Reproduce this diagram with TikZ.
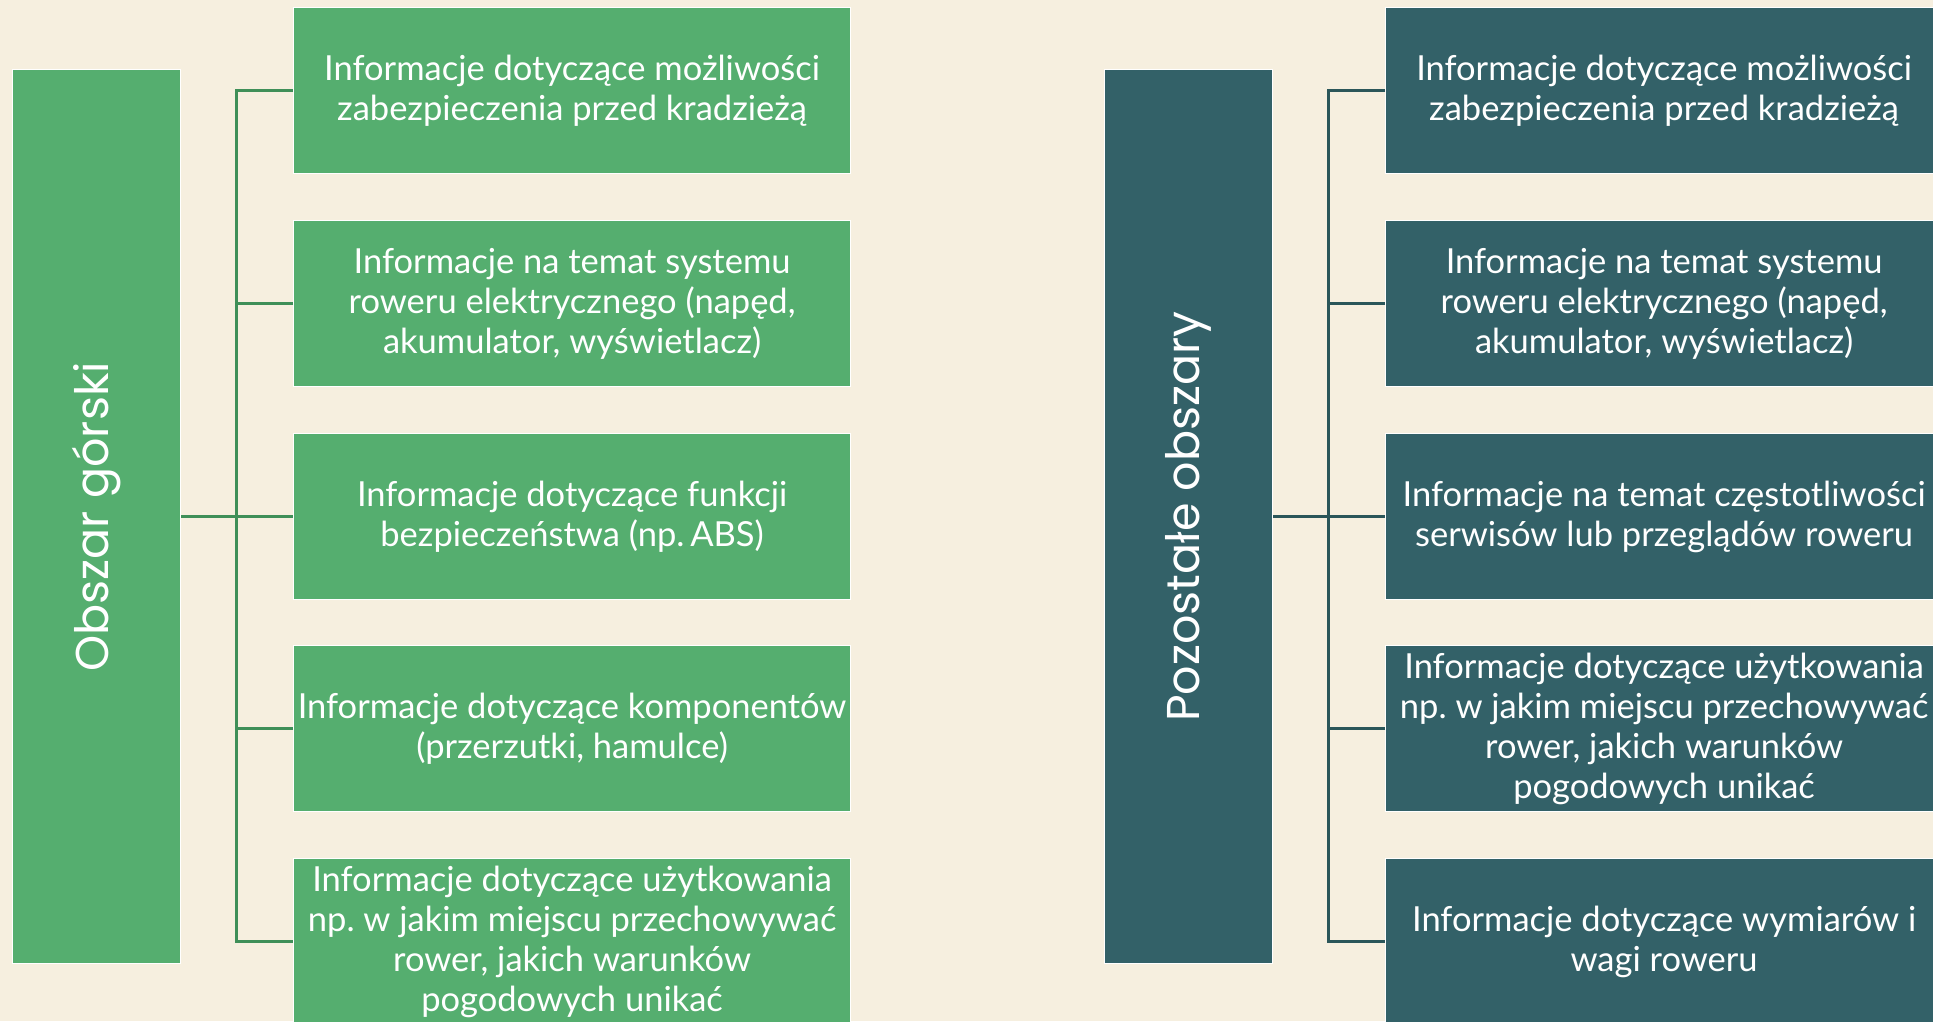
\documentclass[tikz,border=0pt]{standalone}
\usepackage{fontspec}
\setmainfont{Lato}
\newfontfamily\rootfont{Poppins}
\usepackage{graphicx}
\usetikzlibrary{calc}
\frenchspacing

\definecolor{paper}{HTML}{F6EFDF}
\definecolor{leafgreen}{HTML}{55AE6F}
\definecolor{wiregreen}{HTML}{3F8F58}
\definecolor{leafteal}{HTML}{336168}
\definecolor{wireteal}{HTML}{2B5659}

\newcommand{\pagew}{1933}
\newcommand{\pageh}{1021}
\newcommand{\rootw}{168pt}
\newcommand{\rooth}{894pt}
\newcommand{\leafw}{557pt}
\newcommand{\leafh}{166pt}
\newcommand{\sideshift}{1092pt}

\tikzset{
  rootbox/.style={rectangle, draw=white, line width=1.2pt,
    minimum width=\rootw, minimum height=\rooth, inner sep=0pt,
    anchor=north west, text=white,
    font=\rootfont\fontsize{46}{50}\selectfont},
  leafbox/.style={rectangle, draw=white, line width=1.2pt,
    minimum width=\leafw, minimum height=\leafh, inner sep=0pt,
    anchor=north west, text=white, align=center,
    font=\fontsize{34.5}{40}\selectfont},
  wire/.style={line width=3pt},
}

\begin{document}
\begin{tikzpicture}[x=1pt,y=-1pt]
  \useasboundingbox (0,0) rectangle (\pagew,\pageh);
  \clip (0,0) rectangle (\pagew,\pageh);
  \fill[paper] (0,0) rectangle (\pagew,\pageh);
  % mountain area
  \node[rootbox, fill=leafgreen] (mroot) at (12,69) {\rotatebox{90}{Obszar górski}};
  \node[leafbox, fill=leafgreen] (m1) at (293,7)
    {Informacje dotyczące możliwości\\zabezpieczenia przed kradzieżą};
  \node[leafbox, fill=leafgreen] (m2) at (293,220)
    {Informacje na temat systemu\\roweru elektrycznego (napęd,\\akumulator, wyświetlacz)};
  \node[leafbox, fill=leafgreen] (m3) at (293,433)
    {Informacje dotyczące funkcji\\bezpieczeństwa (np.\,ABS)};
  \node[leafbox, fill=leafgreen] (m4) at (293,645)
    {Informacje dotyczące komponentów\\(przerzutki, hamulce)};
  \node[leafbox, fill=leafgreen] (m5) at (293,858)
    {Informacje dotyczące użytkowania\\np. w jakim miejscu przechowywać\\rower, jakich warunków\\pogodowych unikać};
  \coordinate (mbus) at (236,516);
  \draw[wire, wiregreen] (mroot.east) -- (m3.west);
  \draw[wire, wiregreen] (m1.west) -| (mbus) |- (m5.west);
  \draw[wire, wiregreen] (m2.west) -- (m2.west -| mbus);
  \draw[wire, wiregreen] (m4.west) -- (m4.west -| mbus);
  % other areas
  \begin{scope}[xshift=\sideshift]
    \node[rootbox, fill=leafteal] (oroot) at (12,69) {\rotatebox{90}{Pozostałe obszary}};
    \node[leafbox, fill=leafteal] (o1) at (293,7)
      {Informacje dotyczące możliwości\\zabezpieczenia przed kradzieżą};
    \node[leafbox, fill=leafteal] (o2) at (293,220)
      {Informacje na temat systemu\\roweru elektrycznego (napęd,\\akumulator, wyświetlacz)};
    \node[leafbox, fill=leafteal] (o3) at (293,433)
      {Informacje na temat częstotliwości\\serwisów lub przeglądów roweru};
    \node[leafbox, fill=leafteal] (o4) at (293,645)
      {Informacje dotyczące użytkowania\\np. w jakim miejscu przechowywać\\rower, jakich warunków\\pogodowych unikać};
    \node[leafbox, fill=leafteal] (o5) at (293,858)
      {Informacje dotyczące wymiarów i\\wagi roweru};
    \coordinate (obus) at (236,516);
    \draw[wire, wireteal] (oroot.east) -- (o3.west);
    \draw[wire, wireteal] (o1.west) -| (obus) |- (o5.west);
    \draw[wire, wireteal] (o2.west) -- (o2.west -| obus);
    \draw[wire, wireteal] (o4.west) -- (o4.west -| obus);
  \end{scope}
\end{tikzpicture}
\end{document}
